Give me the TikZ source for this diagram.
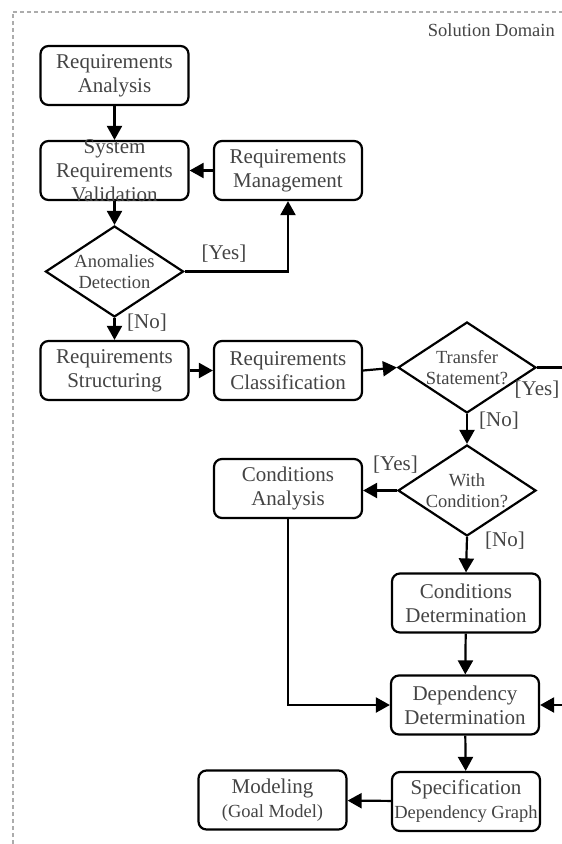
\documentclass[tikz,border=0pt]{standalone}
\usepackage{fontspec}
\setmainfont{Liberation Serif}
\usetikzlibrary{shapes.geometric,arrows.meta}
\definecolor{txtgray}{RGB}{68,68,68}
\newcommand{\bxfont}{\fontsize{21}{24}\selectfont}
\newcommand{\smfont}{\fontsize{18.5}{21}\selectfont}

\begin{document}
\begin{tikzpicture}[x=1pt,y=-1pt,
  proc/.style={draw,line width=2.2pt,rounded corners=8pt,minimum width=148pt,
    minimum height=59pt,inner sep=1pt,align=center,text=txtgray,font=\bxfont},
  decis/.style={draw,diamond,line width=2.2pt,inner sep=0pt,
    minimum width=138pt,minimum height=91pt},
  dtxt/.style={align=center,text=txtgray,font=\smfont,inner sep=0pt},
  lbl/.style={align=center,text=txtgray,font=\bxfont,inner sep=0pt},
  flow/.style={line width=2.2pt,-{Triangle[length=14pt,width=15pt]}},
  wire/.style={line width=2.2pt}]
  \useasboundingbox (0,0) rectangle (562,844);
  \draw[gray!65,line width=2pt,dash pattern=on 4pt off 3pt]
    (12.5,844) -- (12.5,11.5) -- (562,11.5);
  \node[dtxt,anchor=east] (dom) at (555,30) {Solution Domain};
  % left column
  \node[proc] (ra)  at (114.5, 75.5) {Requirements\\Analysis};
  \node[proc] (srv) at (114.5,170.5) {};
  \node[lbl]  (srvtxt) at (srv) {System\\Requirements\\Validation};
  \node[decis] (ad) at (114.5,271.5) {};
  \node[dtxt] (adtxt) at (ad) {Anomalies\\Detection};
  \node[proc] (rs)  at (114.5,370.5) {Requirements\\Structuring};
  % middle column
  \node[proc] (rm)  at (288,170.5) {Requirements\\Management};
  \node[proc] (rc)  at (288,370.5) {Requirements\\Classification};
  \node[proc] (ca)  at (288,488.5) {Conditions\\Analysis};
  \node[proc] (mo)  at (272.5,800) {Modeling\\{\smfont (Goal Model)}};
  % right column
  \node[decis] (ts) at (467,367.5) {};
  \node[dtxt] (tstxt) at (ts) {Transfer\\Statement?};
  \node[decis] (wc) at (467,490.5) {};
  \node[dtxt] (wctxt) at (wc) {With\\Condition?};
  \node[proc] (cd)  at (466,603) {Conditions\\Determination};
  \node[proc] (dd)  at (465,705) {Dependency\\Determination};
  \node[proc] (sp)  at (466,801.5) {Specification\\{\smfont Dependency Graph}};
  \coordinate (tsout) at (562,367.5);
  \coordinate (ddin)  at (562,705);
  % guard labels
  \node[lbl] (yesad) at (224,254) {[Yes]};
  \node[lbl] (noad)  at (147,323) {[No]};
  \node[lbl] (yests) at (537,390) {[Yes]};
  \node[lbl] (nots)  at (499,421) {[No]};
  \node[lbl] (yeswc) at (395.5,465) {[Yes]};
  \node[lbl] (nowc)  at (505,541) {[No]};
  % connectors
  \draw[flow] (ra) -- (srv);
  \draw[flow] (rm) -- (srv);
  \draw[flow] (srv) -- (ad.north);
  \draw[flow] (ad.east) -| (rm.south);
  \draw[flow] (ad.south) -- (rs);
  \draw[flow] (rs) -- (rc);
  \draw[flow] (rc.east) -- (ts.west);
  \draw[wire] (ts.east) -- (tsout);
  \draw[flow] (ts.south) -- (wc.north);
  \draw[flow] (wc.west) -- (wc.west -| ca.east);
  \draw[flow] (wc.south) -- (cd.north);
  \draw[flow] (ca.south) |- (dd.west);
  \draw[flow] (cd) -- (dd);
  \draw[flow] (ddin) -- (dd.east);
  \draw[flow] (dd) -- (sp);
  \draw[flow] (sp) -- (mo);
\end{tikzpicture}
\end{document}
